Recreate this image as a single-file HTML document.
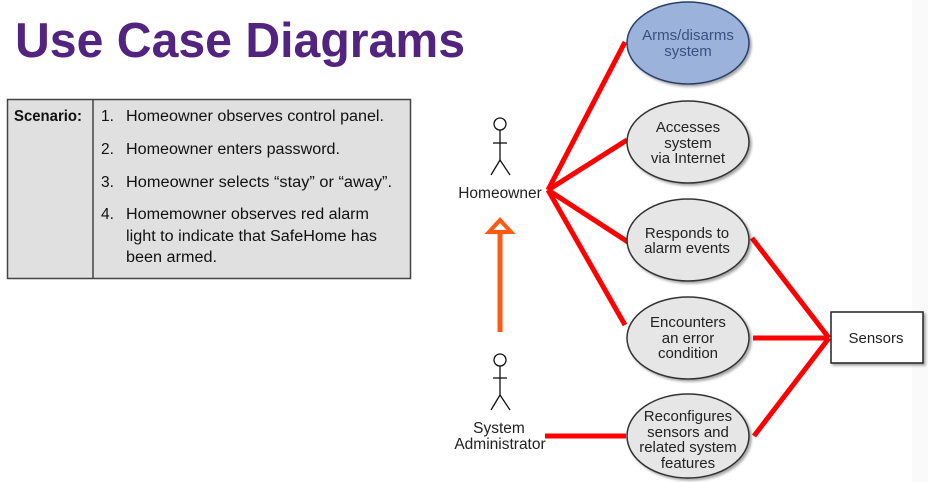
<!DOCTYPE html>
<html><head><meta charset="utf-8"><style>
body{margin:0;width:928px;height:482px;background:#fff;overflow:hidden;font-family:"Liberation Sans",sans-serif}
</style></head><body>
<svg width="928" height="482" viewBox="0 0 928 482" xmlns="http://www.w3.org/2000/svg" style="position:absolute;left:0;top:0">
<defs><filter id="sh" x="-10%" y="-10%" width="130%" height="130%"><feDropShadow dx="2" dy="2" stdDeviation="1.2" flood-color="#000" flood-opacity="0.35"/></filter></defs>
<rect x="912" y="0" width="16" height="482" fill="#fafafa"/>
<text x="15" y="57" font-family="Liberation Sans" font-weight="bold" font-size="49" fill="#52237f" textLength="450" lengthAdjust="spacingAndGlyphs">Use Case Diagrams</text>
<!-- table -->
<rect x="7.5" y="99.5" width="403" height="179" fill="#e0e0e0" stroke="#444" stroke-width="1.5"/>
<line x1="93" y1="99.5" x2="93" y2="278.5" stroke="#444" stroke-width="1.5"/>
<g font-family="Liberation Sans" font-size="15.5" fill="#111" lengthAdjust="spacingAndGlyphs">
<text x="14" y="121" font-weight="bold" textLength="68" lengthAdjust="spacingAndGlyphs">Scenario:</text>
<text x="101" y="121">1.</text><text x="126" y="121" textLength="258" lengthAdjust="spacingAndGlyphs">Homeowner observes control panel.</text>
<text x="101" y="154">2.</text><text x="126" y="154" textLength="214" lengthAdjust="spacingAndGlyphs">Homeowner enters password.</text>
<text x="101" y="187">3.</text><text x="126" y="187" textLength="266" lengthAdjust="spacingAndGlyphs">Homeowner selects “stay” or “away”.</text>
<text x="101" y="219">4.</text><text x="126" y="219" textLength="243" lengthAdjust="spacingAndGlyphs">Homemowner observes red alarm</text>
<text x="126" y="241" textLength="251" lengthAdjust="spacingAndGlyphs">light to indicate that SafeHome has</text>
<text x="126" y="262" textLength="91" lengthAdjust="spacingAndGlyphs">been armed.</text>
</g>
<!-- lines -->
<g stroke="#ff0000" stroke-width="5" fill="none">
<line x1="548" y1="190" x2="625" y2="42"/>
<line x1="548" y1="190" x2="627" y2="140"/>
<line x1="548" y1="190" x2="628" y2="242"/>
<line x1="548" y1="190" x2="625" y2="325"/>
<line x1="752" y1="238" x2="829" y2="338"/>
<line x1="753" y1="338" x2="829" y2="338"/>
<line x1="754" y1="436" x2="829" y2="338"/>
<line x1="545" y1="436" x2="626" y2="436"/>
</g>
<!-- orange arrow -->
<line x1="500" y1="332" x2="500" y2="230" stroke="#ff5a14" stroke-width="5"/>
<polygon points="500,220 511,232 489,232" fill="#fff" stroke="#ff5a14" stroke-width="4"/>
<!-- ellipses -->
<g stroke="#333" stroke-width="1.5" filter="url(#sh)">
<ellipse cx="688" cy="43" rx="61" ry="41" fill="#9bb3da" stroke="#2a3f6a"/>
<ellipse cx="688" cy="142" rx="61" ry="41" fill="#e6e6e6"/>
<ellipse cx="688" cy="240" rx="61" ry="41" fill="#e6e6e6"/>
<ellipse cx="688" cy="338" rx="61" ry="41" fill="#e6e6e6"/>
<ellipse cx="688" cy="436" rx="61" ry="42" fill="#e6e6e6"/>
<rect x="831" y="312" width="92" height="51" fill="#fff" stroke="#222"/>
</g>
<g font-family="Liberation Sans" font-size="15" fill="#222" text-anchor="middle">
<text x="688" y="40" fill="#3a4f80">Arms/disarms</text><text x="688" y="56" fill="#3a4f80">system</text>
<text x="688" y="132">Accesses</text><text x="688" y="148">system</text><text x="688" y="163">via Internet</text>
<text x="687" y="238">Responds to</text><text x="687" y="253">alarm events</text>
<text x="688" y="327">Encounters</text><text x="688" y="343">an error</text><text x="688" y="358">condition</text>
<text x="688" y="421">Reconfigures</text><text x="688" y="437">sensors and</text><text x="688" y="452">related system</text><text x="688" y="468">features</text>
<text x="876" y="343">Sensors</text>
<text x="500" y="198" font-size="15.5">Homeowner</text>
<text x="499" y="433" font-size="15.5">System</text><text x="500" y="449" font-size="15.5">Administrator</text>
</g>
<!-- actors -->
<g stroke="#111" stroke-width="1.3" fill="#fff">
<circle cx="500" cy="124" r="6"/>
<line x1="500" y1="130" x2="500" y2="160"/><line x1="493" y1="143" x2="507" y2="143"/>
<line x1="500" y1="160" x2="491" y2="175"/><line x1="500" y1="160" x2="510" y2="175"/>
<circle cx="500" cy="360" r="6"/>
<line x1="500" y1="366" x2="500" y2="395"/><line x1="493" y1="378" x2="507" y2="378"/>
<line x1="500" y1="395" x2="491" y2="410"/><line x1="500" y1="395" x2="510" y2="410"/>
</g>
</svg>
</body></html>
